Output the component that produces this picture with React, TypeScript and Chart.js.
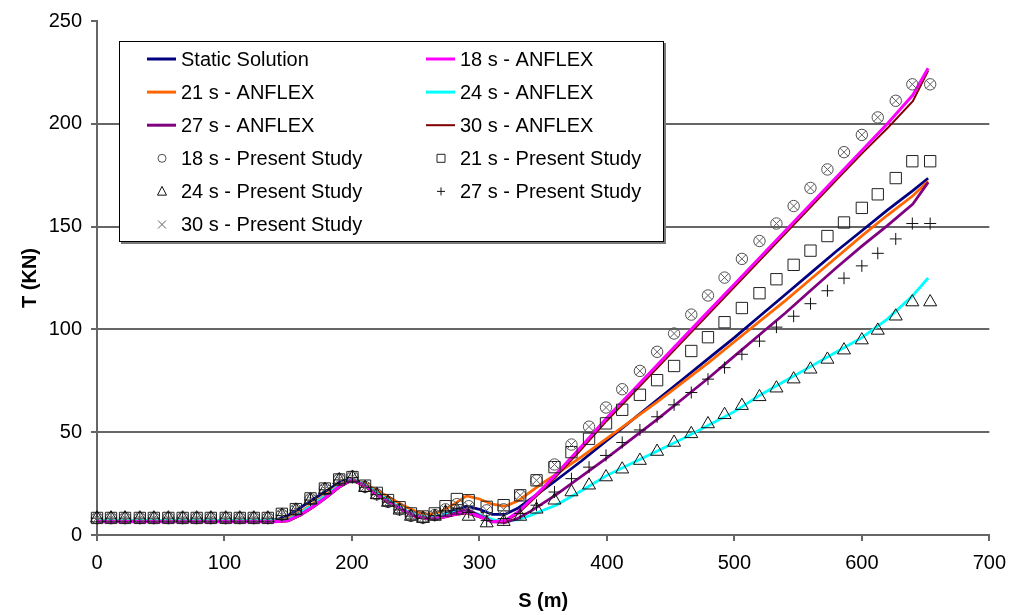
import React, { useEffect, useRef } from 'react';
import { Chart, registerables } from 'chart.js';

Chart.register(...registerables);

// ---------- DATA ----------
const xTickValues = [0, 100, 200, 300, 400, 500, 600, 700];
const yTickValues = [0, 50, 100, 150, 200, 250];

// ANFLEX curves (S in m, T in kN)
const sLine = [0, 40, 80, 120, 140, 150, 160, 170, 180, 190, 200, 210, 220, 230, 240, 250, 260, 270, 280, 290, 300, 310, 320, 330, 340, 350, 360, 380, 400, 420, 440, 460, 480, 500, 520, 540, 560, 580, 600, 620, 640, 652];

const staticSolution = [7, 7, 7, 7, 7.3, 9.5, 13.5, 17.5, 21.5, 25.5, 27.5, 24, 20, 16, 12.5, 9.5, 8.5, 9.5, 12, 14, 12.5, 10, 10, 13, 17.5, 22, 26.5, 36, 46, 56, 66, 76, 86, 96, 106.5, 117, 127.5, 138, 148, 158, 167.5, 173.5];
const anflex18 = [6.5, 6.5, 6.5, 6.5, 6.5, 7, 10, 14, 18.5, 23.5, 27, 24, 19.5, 15.5, 12, 9, 8, 8.5, 10, 11, 9, 6.5, 7, 11, 17, 23, 29.5, 43, 57, 70, 83, 96, 109, 122, 135, 148, 161, 174, 187, 200, 214, 227];
const anflex21 = [7, 7, 7, 7, 7, 8, 11.5, 15.5, 20, 24.5, 27.5, 25, 21.5, 18, 14.5, 11.5, 10, 11.5, 15, 19, 17.5, 15, 14, 16.5, 21, 25.5, 29.5, 38, 47, 56, 65, 74.5, 84, 94, 104, 114, 124.5, 135, 145.5, 155.5, 165, 172];
const anflex24 = [7, 7, 7, 7, 7, 7.5, 11, 15, 19.5, 24, 27.5, 24.5, 20.5, 16.5, 12.5, 9.5, 8.5, 9.5, 11, 12, 10, 7.5, 6.5, 7.5, 9.5, 12, 14.5, 21.5, 29, 35, 41, 47, 53.5, 60, 68, 75, 82, 89, 96, 105, 116.5, 125];
const anflex27 = [6.5, 6.5, 6.5, 6.5, 6.5, 7, 10, 14, 18.5, 23.5, 27, 24, 19.5, 15.5, 12, 9, 8, 8.5, 10.5, 12.5, 9.5, 6.5, 6, 8, 11.5, 15.5, 19.5, 28.5, 37.5, 47, 56.5, 66.5, 76.5, 87, 97.5, 108, 119, 130, 140.5, 150.5, 161, 171.5];
const anflex30 = [6.3, 6.3, 6.3, 6.3, 6.3, 6.7, 9.5, 13.5, 18, 23, 26.6, 23.6, 19, 15, 11.6, 8.7, 7.7, 8.2, 9.6, 10.6, 8.6, 6.2, 6.6, 10.3, 16, 22, 28.3, 41.7, 55.6, 68.6, 81.6, 94.6, 107.6, 120.6, 133.6, 146.6, 159.6, 172.6, 185.5, 197.8, 211, 225.8];

// Present Study points
const sPoints = [0, 11, 22, 33.6, 44.6, 56, 67.2, 78.2, 89.3, 101, 112, 123, 134, 145, 156, 167.5, 178.8, 190, 200.4, 210.3, 219.5, 228.3, 237.4, 246.3, 255.7, 265, 273.4, 282.3, 291.6, 305.7, 319, 332, 344.8, 358.9, 372.2, 386, 399.3, 412, 425.9, 439.4, 452.7, 466.2, 479.3, 492.3, 505.9, 519.7, 533, 546.5, 559.7, 573, 586, 600, 612.5, 626.6, 639.6, 653.6];

const present18 = [8.2, 8.2, 8.2, 8.2, 8.2, 8.2, 8.2, 8.2, 8.2, 8.2, 8.2, 8.2, 8.2, 9.8, 12.3, 17.5, 22.4, 27.1, 28.3, 23.4, 19.8, 16.1, 12.4, 9.3, 8.4, 9.7, 12.5, 15, 14, 12, 12.5, 19.3, 26.6, 34.3, 44, 52.7, 62, 70.9, 79.8, 89.1, 98, 107.2, 116.5, 125.2, 134.3, 143, 151.5, 160, 168.8, 177.8, 186.2, 194.6, 203.1, 211.2, 219.2, 219.2];
const present21 = [8.3, 8.3, 8.3, 8.3, 8.3, 8.3, 8.3, 8.3, 8.3, 8.3, 8.3, 8.3, 8.3, 10.3, 12.6, 17.8, 22.6, 27, 28.2, 24, 20.5, 17, 13.5, 10.5, 9, 10.5, 14, 17.5, 16.9, 13.7, 14.5, 19.3, 26.6, 33, 40.3, 46.8, 54.3, 60.9, 68.2, 75.3, 82.2, 89.5, 96.2, 103.5, 110.4, 117.6, 124.4, 131.4, 138.3, 145.4, 152, 159.1, 165.7, 173.6, 181.8, 181.8];
const present24 = [8.2, 8.2, 8.2, 8.2, 8.2, 8.2, 8.2, 8.2, 8.2, 8.2, 8.2, 8.2, 8.2, 9.5, 12, 17, 22, 26.8, 28, 23, 19.5, 15.8, 12, 9, 8, 9, 11, 12, 9, 5.8, 6.5, 9, 12.5, 16.9, 20.9, 24.2, 28.2, 32, 36.2, 40.6, 45, 49.2, 54, 58.5, 62.9, 67.2, 71.4, 75.8, 80.6, 85.4, 89.9, 94.8, 99.5, 106.4, 113.3, 113.3];
const present27 = [8.2, 8.2, 8.2, 8.2, 8.2, 8.2, 8.2, 8.2, 8.2, 8.2, 8.2, 8.2, 8.2, 9.5, 12, 17, 22, 26.8, 28, 23.2, 19.6, 16, 12.2, 9.2, 8.2, 9.5, 12, 13, 11, 7, 8, 10.5, 14.5, 20.9, 27.4, 33, 38.7, 45, 51.1, 57.5, 63.3, 69.3, 75.8, 81.4, 87.9, 94.3, 101.1, 106.4, 112.5, 118.8, 124.9, 130.9, 137, 144, 151.5, 151.5];
const present30 = [8.2, 8.2, 8.2, 8.2, 8.2, 8.2, 8.2, 8.2, 8.2, 8.2, 8.2, 8.2, 8.2, 9.8, 12.3, 17.5, 22.4, 27.1, 28.3, 23.4, 19.8, 16.1, 12.4, 9.3, 8.4, 9.7, 12.5, 15, 14, 12, 12.5, 19.3, 26.6, 34.3, 44, 52.7, 62, 70.9, 79.8, 89.1, 98, 107.2, 116.5, 125.2, 134.3, 143, 151.5, 160, 168.8, 177.8, 186.2, 194.6, 203.1, 211.2, 219.2, 219.2];

const FONT = '"Liberation Sans", Arial, Helvetica, sans-serif';

function pts(xs: number[], ys: number[]) {
  return xs.map((x, i) => ({ x, y: ys[i] }));
}

function lineSet(label: string, ys: number[], color: string, width: number, order: number) {
  return {
    label,
    data: pts(sLine, ys),
    borderColor: color,
    backgroundColor: color,
    borderWidth: width,
    pointRadius: 0,
    showLine: true,
    tension: 0,
    fill: false,
    order,
    kind: 'line',
  };
}

function pointSet(label: string, ys: number[], style: string, radius: number, color: string, order: number) {
  return {
    label,
    data: pts(sPoints, ys),
    showLine: false,
    pointStyle: style,
    pointRadius: radius,
    pointBorderWidth: 1,
    pointBorderColor: color,
    pointBackgroundColor: 'rgba(0,0,0,0)',
    borderColor: color,
    backgroundColor: 'rgba(0,0,0,0)',
    clip: false,
    order,
    kind: 'point',
  };
}

function drawMarker(ctx: CanvasRenderingContext2D, style: string, x: number, y: number, r: number, color: string) {
  ctx.save();
  ctx.strokeStyle = color;
  ctx.lineWidth = 1;
  ctx.beginPath();
  if (style === 'circle') {
    ctx.arc(x, y, r, 0, Math.PI * 2);
  } else if (style === 'rect') {
    ctx.rect(x - r, y - r, 2 * r, 2 * r);
  } else if (style === 'triangle') {
    ctx.moveTo(x, y - r);
    ctx.lineTo(x + r * 0.9, y + r * 0.75);
    ctx.lineTo(x - r * 0.9, y + r * 0.75);
    ctx.closePath();
  } else if (style === 'cross') {
    ctx.moveTo(x - r, y);
    ctx.lineTo(x + r, y);
    ctx.moveTo(x, y - r);
    ctx.lineTo(x, y + r);
  } else if (style === 'crossRot') {
    ctx.moveTo(x - r, y - r);
    ctx.lineTo(x + r, y + r);
    ctx.moveTo(x + r, y - r);
    ctx.lineTo(x - r, y + r);
  }
  ctx.stroke();
  ctx.restore();
}

const boxLegend = {
  id: 'boxLegend',
  afterDraw(chart: any) {
    const ctx: CanvasRenderingContext2D = chart.ctx;
    const L = 119, T = 41, R = 664, B = 242;
    ctx.save();
    ctx.fillStyle = '#ffffff';
    ctx.fillRect(L, T, R - L, B - T);
    ctx.strokeStyle = '#000000';
    ctx.lineWidth = 1;
    ctx.strokeRect(L + 0.5, T + 0.5, R - L - 1, B - T - 1);
    ctx.strokeStyle = '#7a7a7a';
    ctx.lineWidth = 2;
    ctx.beginPath();
    ctx.moveTo(L + 2, B + 1);
    ctx.lineTo(R + 1, B + 1);
    ctx.lineTo(R + 1, T + 2);
    ctx.stroke();

    ctx.font = '20px ' + FONT;
    ctx.textBaseline = 'middle';
    ctx.textAlign = 'left';
    const items = chart.data.datasets.slice().sort((a: any, b: any) => a.legendIndex - b.legendIndex);
    items.forEach((ds: any, i: number) => {
      const col = i % 2;
      const row = Math.floor(i / 2);
      const x0 = col === 0 ? 147 : 426;
      const cy = 59 + row * 33.1;
      if (ds.kind === 'line') {
        ctx.strokeStyle = ds.borderColor;
        ctx.lineWidth = ds.borderWidth >= 2.5 ? 3 : 2;
        ctx.beginPath();
        ctx.moveTo(x0, cy);
        ctx.lineTo(x0 + 29, cy);
        ctx.stroke();
      } else {
        const rr = ds.pointStyle === 'triangle' ? 5 : 4;
        drawMarker(ctx, ds.pointStyle, x0 + 15, cy, rr, ds.pointBorderColor);
      }
      ctx.fillStyle = '#000000';
      ctx.fillText(ds.label, x0 + 34, cy + 1);
    });
    ctx.restore();
  },
};

export default function App() {
  const ref = useRef<HTMLCanvasElement | null>(null);

  useEffect(() => {
    if (!ref.current) return;
    Chart.defaults.font.family = FONT;
    const defs: any[] = [
      lineSet('Static Solution', staticSolution, '#000080', 2.75, 20),
      lineSet('18 s - ANFLEX', anflex18, '#FF00FF', 3, 14),
      lineSet('21 s - ANFLEX', anflex21, '#FF6600', 2.75, 18),
      lineSet('24 s - ANFLEX', anflex24, '#00FFFF', 2.75, 17),
      lineSet('27 s - ANFLEX', anflex27, '#800080', 2.75, 16),
      lineSet('30 s - ANFLEX', anflex30, '#800000', 2, 15),
      pointSet('18 s - Present Study', present18, 'circle', 5.7, '#505050', 5),
      pointSet('21 s - Present Study', present21, 'rect', 8, '#222222', 4),
      pointSet('24 s - Present Study', present24, 'triangle', 7.5, '#111111', 3),
      pointSet('27 s - Present Study', present27, 'cross', 6, '#111111', 2),
      pointSet('30 s - Present Study', present30, 'crossRot', 6, '#606060', 1),
    ];
    const datasets = defs.map((d, i) => ({ ...d, legendIndex: i }));

    const chart = new Chart(ref.current, {
      type: 'scatter',
      data: { datasets },
      options: {
        animation: false,
        responsive: false,
        maintainAspectRatio: false,
        events: [],
        layout: { padding: { left: 0, right: 24, top: 18, bottom: 0 } },
        plugins: {
          legend: { display: false },
          tooltip: { enabled: false },
          title: { display: false },
        },
        scales: {
          x: {
            type: 'linear',
            min: 0,
            max: 700,
            afterBuildTicks: (scale: any) => {
              scale.ticks = xTickValues.map((v) => ({ value: v }));
            },
            afterFit: (scale: any) => {
              scale.height = 80;
            },
            grid: {
              drawOnChartArea: false,
              drawTicks: true,
              tickLength: 6,
              tickColor: '#666666',
              lineWidth: 2,
            },
            border: { display: true, color: '#666666', width: 2 },
            ticks: {
              color: '#000000',
              font: { size: 20, family: FONT },
              padding: 10,
              maxRotation: 0,
              autoSkip: false,
            },
            title: {
              display: true,
              text: 'S (m)',
              color: '#000000',
              font: { size: 20, weight: 'bold', family: FONT },
              padding: { top: 0, bottom: 2 },
            },
          },
          y: {
            type: 'linear',
            min: 0,
            max: 250,
            afterBuildTicks: (scale: any) => {
              scale.ticks = yTickValues.map((v) => ({ value: v }));
            },
            afterFit: (scale: any) => {
              scale.width = 97;
            },
            grid: {
              drawOnChartArea: true,
              drawTicks: true,
              tickLength: 6,
              tickColor: '#666666',
              lineWidth: 2,
              color: (c: any) => (c.tick && (c.tick.value === 250 || c.tick.value === 0) ? 'rgba(0,0,0,0)' : '#666666'),
            },
            border: { display: true, color: '#666666', width: 2 },
            ticks: {
              color: '#000000',
              font: { size: 20, family: FONT },
              padding: 9,
              autoSkip: false,
            },
            title: {
              display: true,
              text: 'T (KN)',
              color: '#000000',
              font: { size: 20, weight: 'bold', family: FONT },
              padding: { top: 18, bottom: 0 },
            },
          },
        },
      } as any,
      plugins: [boxLegend],
    });

    return () => {
      chart.destroy();
    };
  }, []);

  return (
    <div style={{ position: 'absolute', left: 0, top: 0, width: 1016, height: 615, background: '#ffffff' }}>
      <canvas ref={ref} width={1016} height={615} style={{ display: 'block', width: 1016, height: 615 }} />
    </div>
  );
}
